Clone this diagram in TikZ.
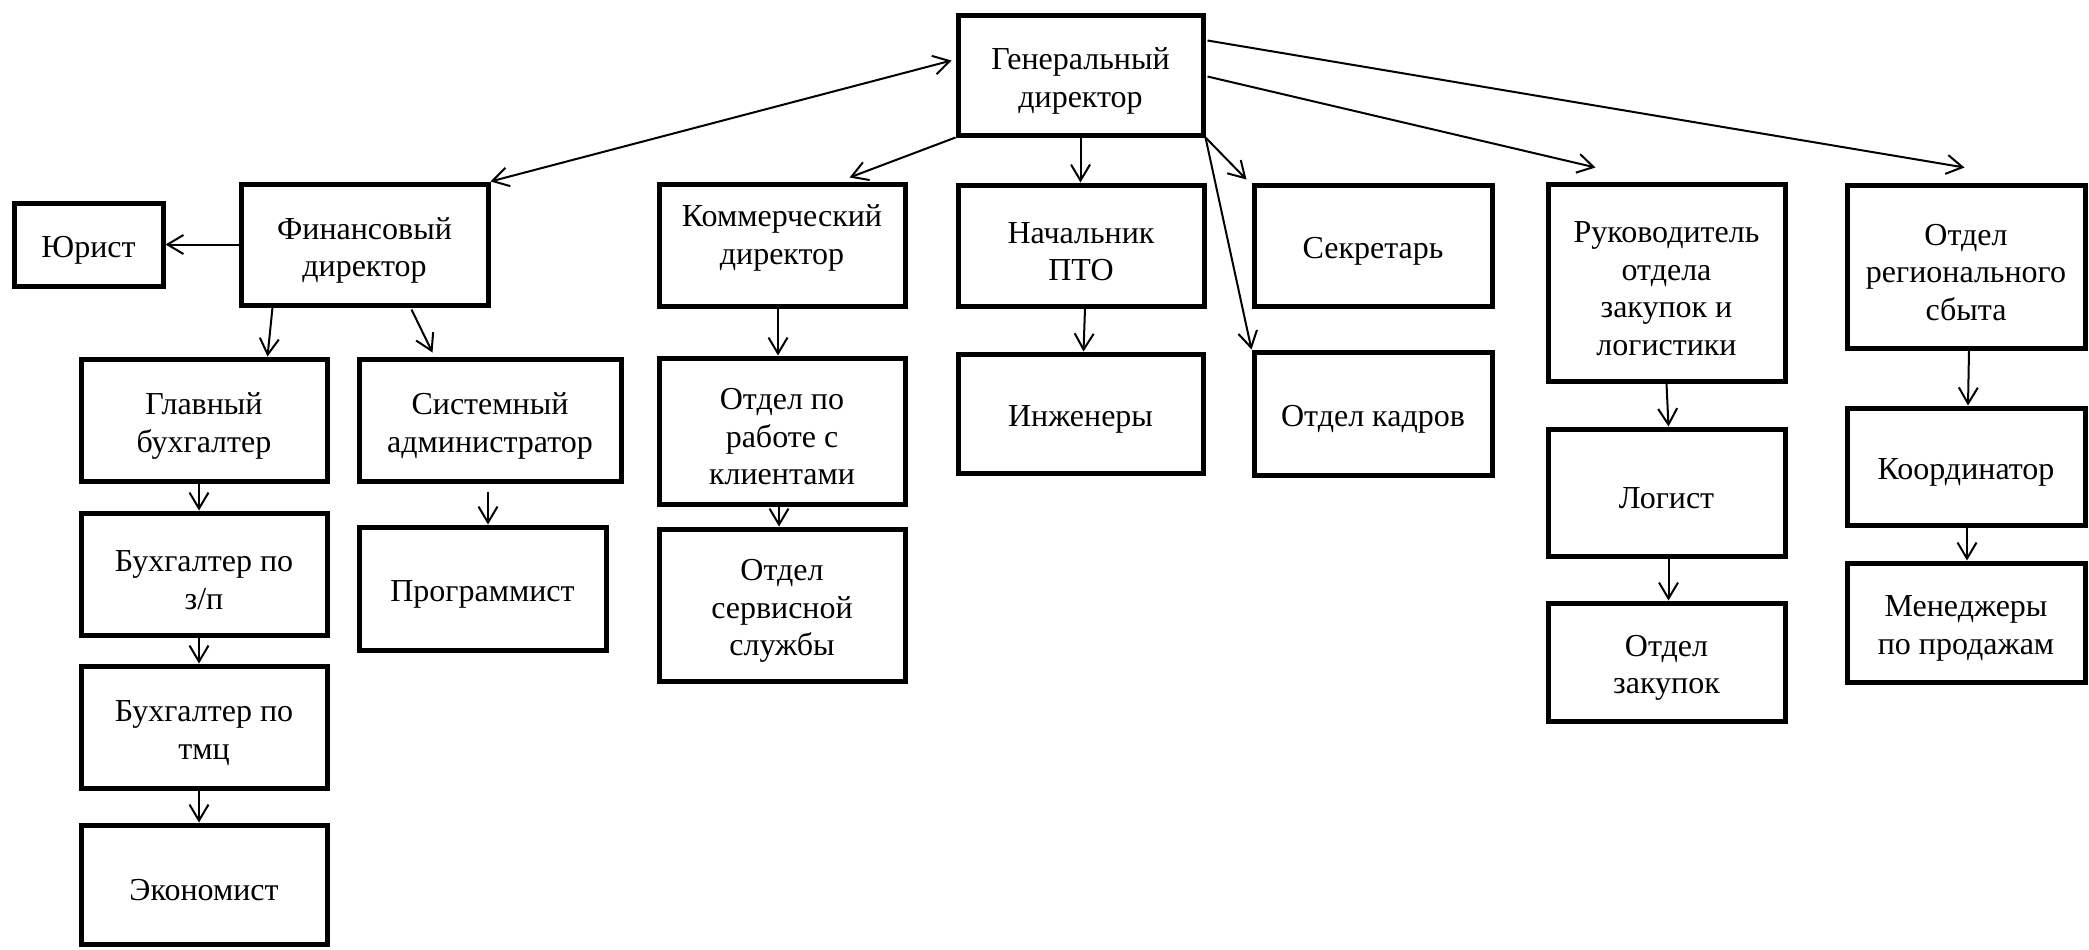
\documentclass[tikz,border=0pt]{standalone}
\usepackage{fontspec}
\setmainfont{Liberation Serif}
\usetikzlibrary{arrows.meta,calc,fit}
\newcommand{\orgbox}[5][6]{\node[box, fit={#3 #4}] (#2) {};
  \node[txt] (#2t) at ($(#2.center)+(0,#1)$) {#5};}
\begin{document}
\begin{tikzpicture}[x=0.5pt,y=-0.5pt,
 box/.style={draw, line width=2.5pt, inner sep=0pt},
 txt/.style={inner sep=0pt, align=center, font=\fontsize{16}{18.75}\selectfont},
 arr/.style={line width=1pt, -{Straight Barb[length=8pt,width=9.5pt]}},
 arrboth/.style={line width=1pt, {Straight Barb[length=8pt,width=9.5pt]}-{Straight Barb[length=8pt,width=9.5pt]}},
]
\useasboundingbox (0,0) rectangle (2089,949);

\orgbox{gen}{(958,15)}{(1203,135)}{Генеральный\\директор}
\orgbox{fin}{(241,184)}{(488,305)}{Финансовый\\директор}
\orgbox{jur}{(14,203)}{(163,286)}{Юрист}
\orgbox{glav}{(81,359)}{(327,481)}{Главный\\бухгалтер}
\orgbox{sys}{(359,359)}{(621,481)}{Системный\\администратор}
\orgbox{zp}{(81,513)}{(327,635)}{Бухгалтер по\\з/п}
\orgbox{prog}{(359,527)}{(606,650)}{Программист}
\orgbox{tmc}{(81,666)}{(327,788)}{Бухгалтер по\\тмц}
\orgbox{eco}{(81,825)}{(327,944)}{Экономист}
\orgbox[-7]{kom}{(659,184)}{(905,306)}{Коммерческий\\директор}
\orgbox{kli}{(659,358)}{(905,504)}{Отдел по\\работе с\\клиентами}
\orgbox{serv}{(659,529)}{(905,681)}{Отдел\\сервисной\\службы}
\orgbox{pto}{(958,185)}{(1204,306)}{Начальник\\ПТО}
\orgbox{ing}{(958,354)}{(1203,473)}{Инженеры}
\orgbox{sec}{(1254,185)}{(1492,306)}{Секретарь}
\orgbox{kad}{(1254,352)}{(1492,475)}{Отдел кадров}
\orgbox{ruk}{(1548,184)}{(1785,381)}{Руководитель\\отдела\\закупок и\\логистики}
\orgbox{log}{(1548,429)}{(1785,556)}{Логист}
\orgbox{zak}{(1548,603)}{(1785,721)}{Отдел\\закупок}
\orgbox{reg}{(1847,185)}{(2085,348)}{Отдел\\регионального\\сбыта}
\orgbox{koo}{(1847,408)}{(2085,525)}{Координатор}
\orgbox{men}{(1847,563)}{(2085,682)}{Менеджеры\\по продажам}

\draw[arrboth] (fin.north east) -- ($(gen.north west)+(-4,48)$);
\draw[arr] (gen.south west) -- ($(kom.north west)+(193,-4)$);
\draw[arr] (gen.south) -- (gen.south |- pto.north);
\draw[arr] (gen.south east) -- ($(sec.north west)+(-5,-3)$);
\draw[arr] (gen.south east) -- (kad.north west);
\draw[arr] ($(gen.north east)+(2,64)$) -- ($(ruk.north west)+(50,-14)$);
\draw[arr] ($(gen.north east)+(2,28)$) -- ($(reg.north west)+(120,-15)$);
\draw[arr] (fin.west) -- (jur.east);
\draw[arr] ($(fin.south west)+(34,0)$) -- ($(glav.north west)+(189,0)$);
\draw[arr] ($(fin.south west)+(173,2)$) -- ($(sys.north west)+(76,-4)$);
\draw[arr] ($(glav.south)+(-5,0)$) -- ($(zp.north)+(-5,0)$);
\draw[arr] ($(zp.south)+(-5,0)$) -- ($(tmc.north)+(-5,0)$);
\draw[arr] ($(tmc.south)+(-5,0)$) -- ($(eco.north)+(-5,0)$);
\draw[arr] ($(sys.south)+(-2,8)$) -- ($(prog.north)+(5.5,0)$);
\draw[arr] ($(kom.south)+(-4,0)$) -- ($(kli.north)+(-4,0)$);
\draw[arr] ($(kli.south)+(-3,0)$) -- ($(serv.north)+(-3,0)$);
\draw[arr] ($(pto.south)+(4,0)$) -- ($(ing.north)+(3,0)$);
\draw[arr] (ruk.south) -- ($(log.north)+(2,0)$);
\draw[arr] ($(log.south)+(2,0)$) -- ($(zak.north)+(2,0)$);
\draw[arr] ($(reg.south)+(3,0)$) -- ($(koo.north)+(2,0)$);
\draw[arr] ($(koo.south)+(1,0)$) -- ($(men.north)+(1,0)$);
\end{tikzpicture}
\end{document}
